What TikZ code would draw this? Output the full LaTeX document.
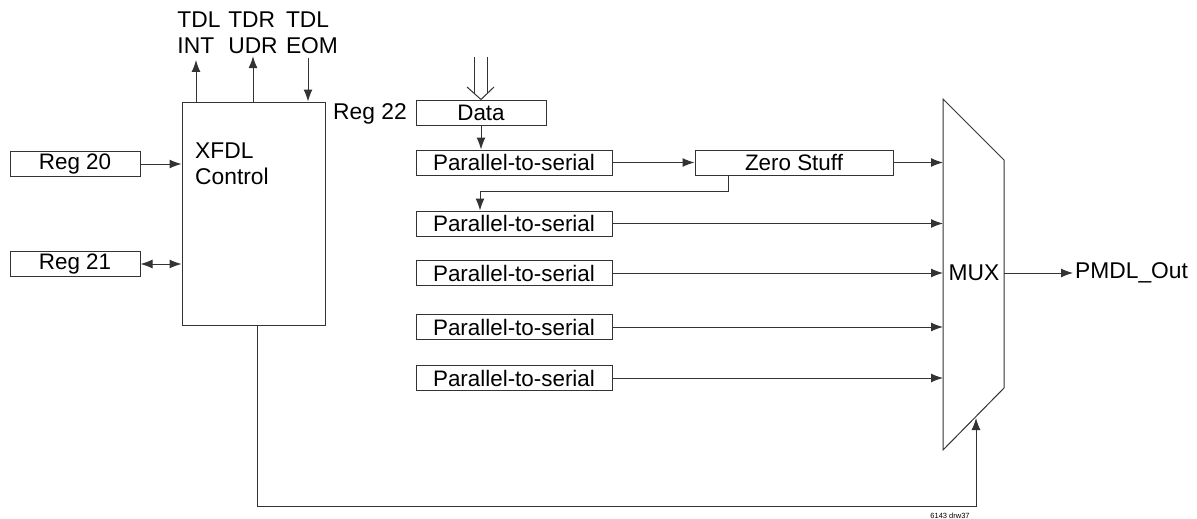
\documentclass[tikz,border=0pt]{standalone}
\usepackage{fontspec}
\setmainfont{Liberation Sans}
\usetikzlibrary{arrows.meta}
\colorlet{wire}{black!80}
\begin{document}
\begin{tikzpicture}[x=1pt, y=-1pt]
      \tikzstyle{blk}=[draw=wire, line width=1pt, inner sep=0pt, minimum height=25pt, font=\fontsize{22.4}{25}\selectfont];
      \tikzstyle{lbl}=[inner sep=2pt, font=\fontsize{22.8}{26}\selectfont];
      \tikzstyle{arr}=[wire, line width=1pt, -{Latex[length=12pt, width=9pt]}];
      \tikzstyle{ln}=[wire, line width=1pt];

      \useasboundingbox (0, 0) rectangle (1197, 519);

      % control side
      \node[blk, minimum width=143pt, minimum height=223pt] (xfdl) at (253.5, 213.5) {};
      \node[lbl, anchor=north west, align=left] (xfdltxt) at (193, 141) {XFDL\\Control};
      \node[blk, minimum width=130pt] (reg20) at (75, 164) {Reg 20};
      \node[blk, minimum width=130pt] (reg21) at (75, 264) {Reg 21};
      \node[lbl, align=left] (int) at (199, 33) {TDL\\INT};
      \node[lbl, align=left] (udr) at (253, 33) {TDR\\UDR};
      \node[lbl, align=left] (eom) at (312, 33) {TDL\\EOM};

      \draw[arr] (reg20.east) -- (reg20.east -| xfdl.west);
      \draw[arr, {Latex[length=12pt, width=9pt]}-{Latex[length=12pt, width=9pt]}] (reg21.east) -- (reg21.east -| xfdl.west);
      \draw[arr] (xfdl.north -| 196, 0) -- (196, 60);
      \draw[arr] (xfdl.north -| udr) -- (udr.south);
      \draw[arr] (308, 58) -- (xfdl.north -| 308, 0);

      % data path
      \node[lbl] (reg22) at (370, 114) {Reg 22};
      \node[blk, minimum width=130pt] (data) at (481, 112.5) {Data};
      \node[blk, minimum width=196pt] (p2s1) at (514, 162.5) {Parallel-to-serial};
      \node[blk, minimum width=196pt] (p2s2) at (514, 223.5) {Parallel-to-serial};
      \node[blk, minimum width=196pt] (p2s3) at (514, 273) {Parallel-to-serial};
      \node[blk, minimum width=196pt] (p2s4) at (514, 327) {Parallel-to-serial};
      \node[blk, minimum width=196pt] (p2s5) at (514, 378) {Parallel-to-serial};
      \node[blk, minimum width=198pt] (zero) at (794, 162.5) {Zero Stuff};

      \draw[ln] (474, 57) -- (474, 94);
      \draw[ln] (487, 57) -- (487, 94);
      \draw[ln] (467, 87) -- (data.north) -- (494, 87);
      \draw[arr] (data.south) -- (data.south |- p2s1.north);
      \draw[arr] (p2s1.east) -- (zero.west);
      \draw[arr] (zero.south -| 728, 0) -- (728, 191) -| (p2s2.north -| 480, 0);

      % mux
      \coordinate (mtl) at (943, 99);
      \coordinate (mtr) at (1004, 160);
      \coordinate (mbr) at (1004, 388);
      \coordinate (mbl) at (943, 450);
      \draw[ln] (mtl) -- (mtr) -- (mbr) -- (mbl) -- cycle;
      \node[lbl] (mux) at (974, 273) {MUX};
      \node[lbl, anchor=west] (out) at (1073, 273) {PMDL\_Out};
      \draw[arr] (mux.center -| mtr) -- (out.west);

      \draw[arr] (zero.east) -- (zero.east -| mtl);
      \foreach \i in {2,...,5}
        \draw[arr] (p2s\i.east) -- (p2s\i.east -| mtl);

      \draw[arr] (xfdl.south -| 257, 0) -- (257, 506) -- (976, 506) -- (976, 418);
      \node[font=\fontsize{7.5}{9}\selectfont, inner sep=0pt] (drw) at (950, 516) {6143 drw37};
    \end{tikzpicture}
\end{document}
